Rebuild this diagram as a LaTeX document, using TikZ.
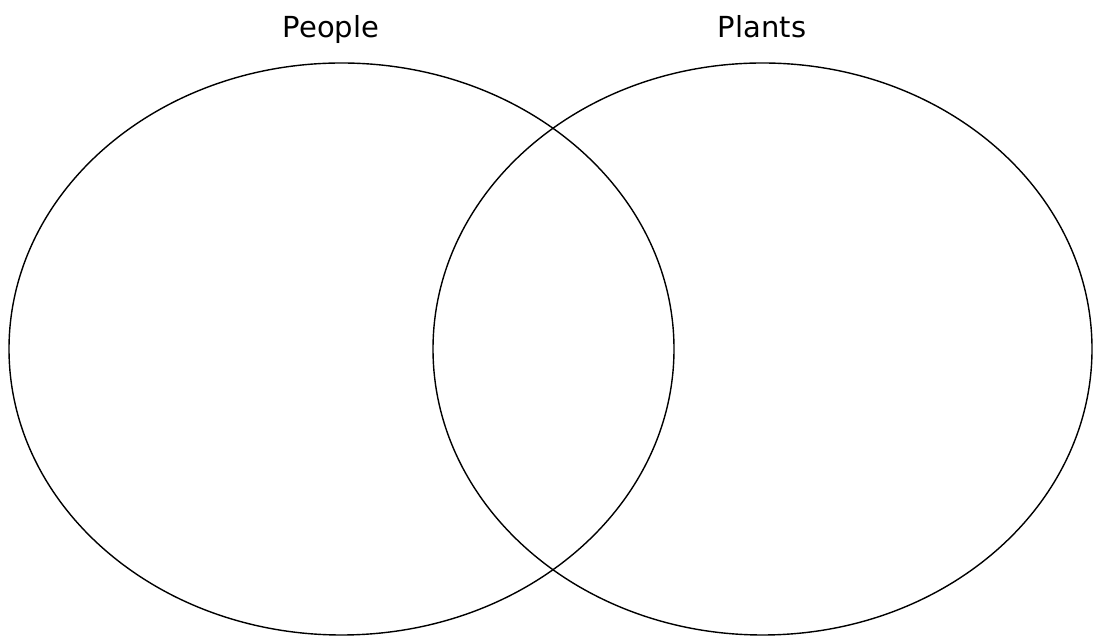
\documentclass[tikz,border=0pt]{standalone}
\usepackage{fontspec}
\setmainfont{DejaVu Sans}
\usetikzlibrary{shapes.geometric}
\begin{document}
\begin{tikzpicture}[x=1pt,y=1pt,
  setring/.style={draw=black,line width=1.4pt,ellipse,inner sep=0pt,outer sep=0pt},
  setlabel/.style={anchor=base,font=\fontsize{29}{34}\selectfont,inner sep=0pt}]
\useasboundingbox (0,0) rectangle (1094,636);
\node[setring,minimum width=665pt,minimum height=572pt] (people) at (341.5,287) {};
\node[setring,minimum width=659pt,minimum height=572pt] (plants) at (762.5,287) {};
\node[setlabel] (lpeople) at (331,598) {People};
\node[setlabel] (lplants) at (762,598) {Plants};
\end{tikzpicture}
\end{document}
